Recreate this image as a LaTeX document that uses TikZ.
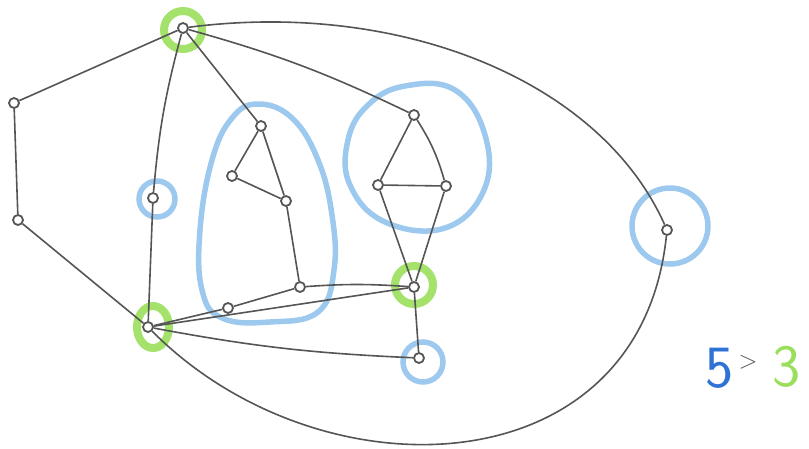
\documentclass[tikz,border=0pt]{standalone}
\usetikzlibrary{calc}
\definecolor{pencil}{HTML}{555555}
\definecolor{lblue}{HTML}{8CC0EC}
\definecolor{dblue}{HTML}{2F72D6}
\definecolor{lgreen}{HTML}{9ADF5C}
\tikzset{
  vtx/.style={circle, draw=pencil, line width=1.8pt, inner sep=0pt, minimum size=10pt, fill=white},
  edge/.style={draw=pencil, line width=1.6pt},
  bluehalo/.style={draw=lblue, line width=5.5pt, opacity=0.85},
  greenhalo/.style={draw=lgreen, line width=8pt, opacity=0.9},
  digit/.style={inner sep=0pt, font=\fontsize{60}{60}\selectfont\sffamily}
}
\begin{document}
\begin{tikzpicture}[x=1pt, y=-1pt]
\useasboundingbox (0,0) rectangle (809,448);
% halos
\draw[bluehalo] plot[smooth cycle, tension=0.7] coordinates {(258,104) (292,118) (318,160) (332,215) (334,270) (318,312) (270,322) (222,318) (202,290) (200,230) (212,160) (232,118)};
\draw[bluehalo] plot[smooth cycle, tension=0.7] coordinates {(405,86) (455,90) (485,135) (484,190) (445,228) (385,222) (350,185) (348,140) (368,105)};
\draw[bluehalo] (157,199) circle[radius=18];
\draw[bluehalo] (423,362) circle[radius=20];
\draw[bluehalo] (670,226) circle[radius=38];
\draw[greenhalo] (183,30) circle[radius=19];
\draw[greenhalo] (153,327) ellipse[x radius=16, y radius=21];
\draw[greenhalo] (414,285) circle[radius=19];
% vertices
\node[vtx] (A) at (183,28) {};
\node[vtx] (L1) at (14,103) {};
\node[vtx] (L2) at (18,220) {};
\node[vtx] (B) at (148,327) {};
\node[vtx] (C) at (153,198) {};
\node[vtx] (T1) at (261,126) {};
\node[vtx] (T2) at (232,176) {};
\node[vtx] (T3) at (286,201) {};
\node[vtx] (T4) at (300,287) {};
\node[vtx] (T5) at (228,308) {};
\node[vtx] (R1) at (414,115) {};
\node[vtx] (R2) at (378,185) {};
\node[vtx] (R3) at (446,186) {};
\node[vtx] (G) at (414,287) {};
\node[vtx] (H) at (419,358) {};
\node[vtx] (E) at (667,230) {};
% edges
\draw[edge] (A) -- (L1);
\draw[edge] (L1) -- (L2);
\draw[edge] (L2) -- (B);
\draw[edge] (A) to[bend right=5] (C);
\draw[edge] (C) -- (B);
\draw[edge] (A) -- (T1);
\draw[edge] (A) to[bend left=5] (R1);
\draw[edge] (A) .. controls (400,0) and (600,80) .. (E);
\draw[edge] (E) .. controls (640,490) and (320,500) .. (B);
\draw[edge] (T1) -- (T2);
\draw[edge] (T2) -- (T3);
\draw[edge] (T1) -- (T3);
\draw[edge] (T3) -- (T4);
\draw[edge] (T4) -- (T5);
\draw[edge] (T5) -- (B);
\draw[edge] (T4) to[bend left=4] (G);
\draw[edge] (R1) -- (R2);
\draw[edge] (R1) to[bend left=8] (R3);
\draw[edge] (R2) -- (R3);
\draw[edge] (R2) -- (G);
\draw[edge] (R3) -- (G);
\draw[edge] (G) -- (H);
\draw[edge] (B) -- (G);
\draw[edge] (B) to[bend right=4] (H);
% label
\node[digit, text=dblue] (five) at (720,368) {5};
\node[inner sep=0pt, text=pencil, font=\fontsize{30}{30}\selectfont] (gt) at (748,362) {$>$};
\node[digit, text=lgreen] (three) at (787,367) {3};
\end{tikzpicture}
\end{document}
